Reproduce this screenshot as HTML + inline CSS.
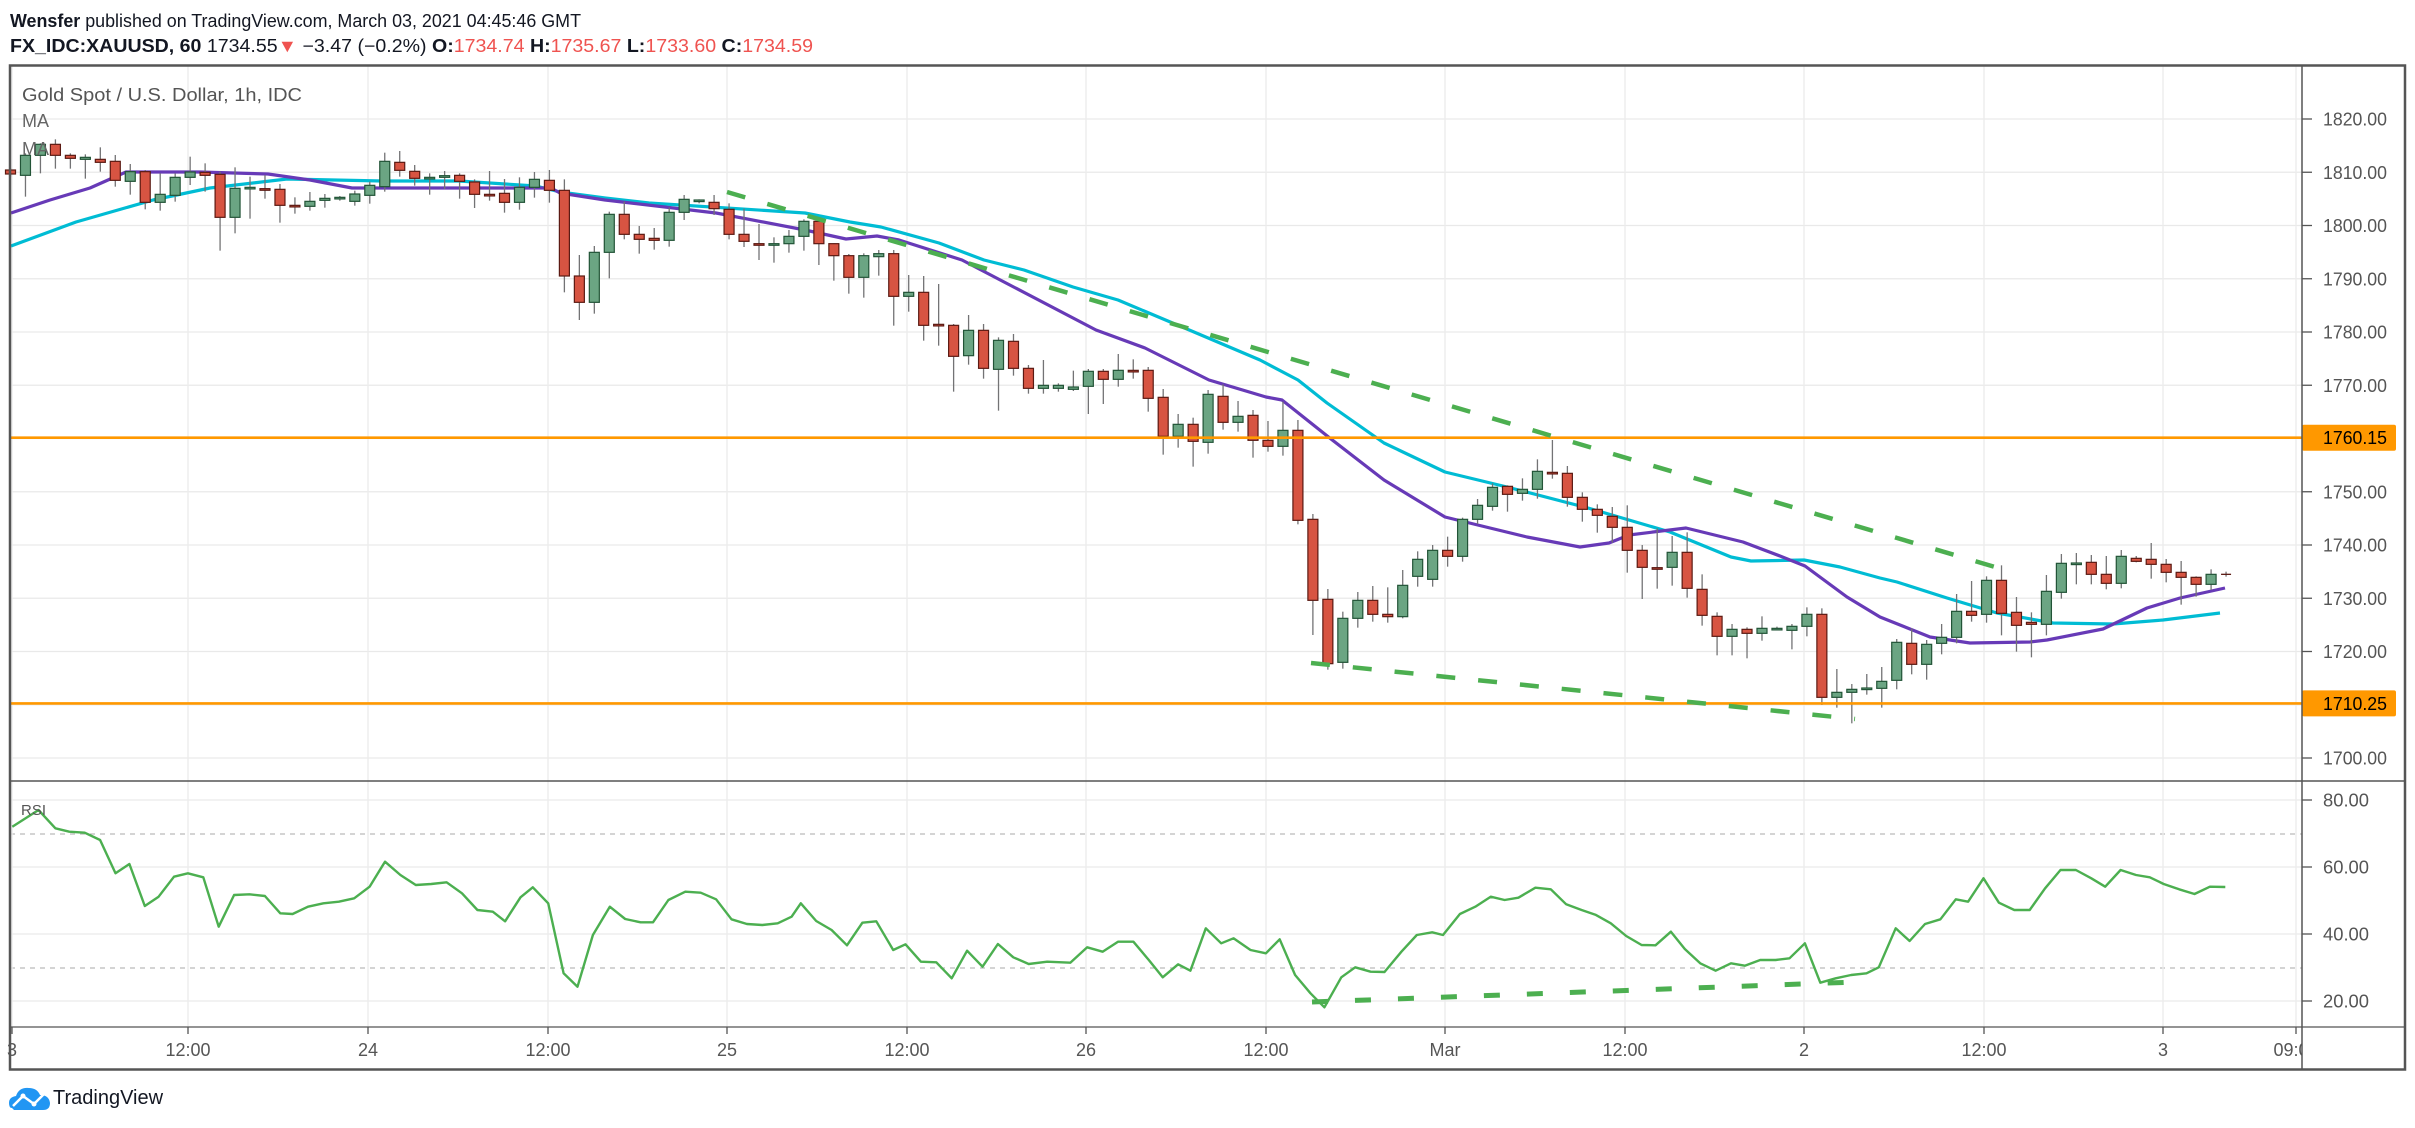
<!DOCTYPE html>
<html><head><meta charset="utf-8"><style>
html,body{margin:0;padding:0;background:#fff;width:2415px;height:1128px;overflow:hidden}
svg{display:block;font-family:"Liberation Sans",sans-serif}
</style></head><body>
<svg id="s" width="2415" height="1128" viewBox="0 0 2415 1128" xmlns="http://www.w3.org/2000/svg">
<rect width="2415" height="1128" fill="#fff"/>
<g id="grid"></g>
<g id="main"></g>
<text x="10" y="27" font-size="18" fill="#131722" textLength="571" lengthAdjust="spacingAndGlyphs"><tspan font-weight="bold">Wensfer</tspan> published on TradingView.com, March 03, 2021 04:45:46 GMT</text>
<text x="10" y="52" font-size="18" fill="#131722" textLength="803" lengthAdjust="spacingAndGlyphs"><tspan font-weight="bold">FX_IDC:XAUUSD, 60</tspan> 1734.55<tspan fill="#ef5350">▼</tspan> −3.47 (−0.2%) <tspan font-weight="bold">O:</tspan><tspan fill="#ef5350">1734.74</tspan> <tspan font-weight="bold">H:</tspan><tspan fill="#ef5350">1735.67</tspan> <tspan font-weight="bold">L:</tspan><tspan fill="#ef5350">1733.60</tspan> <tspan font-weight="bold">C:</tspan><tspan fill="#ef5350">1734.59</tspan></text>
<text x="22" y="101" font-size="18" fill="#555" textLength="280" lengthAdjust="spacingAndGlyphs">Gold Spot / U.S. Dollar, 1h, IDC</text>
<text x="22" y="127" font-size="18" fill="#666">MA</text>
<text x="22" y="155" font-size="18" fill="#666">MA</text>
<text x="21" y="815" font-size="15" fill="#555">RSI</text>
<g transform="translate(9,1086)">
<path d="M3 22 Q0 22 0 17 Q0 11 7 10 Q10 1 20 2 Q28 2 31 9 Q40 9 41 17 Q41 24 34 24 L5 24 Z" fill="#2196f3"/>
<polyline points="4,20 14,10 25,18 35,8" fill="none" stroke="#fff" stroke-width="2.5"/>
<circle cx="14" cy="10" r="2.5" fill="#fff"/><circle cx="25" cy="18" r="2.5" fill="#fff"/>
</g>
<text x="53" y="1104" font-size="20" fill="#131722">TradingView</text>
</svg>
<script>
(function(){
var NS='http://www.w3.org/2000/svg';
var g=document.getElementById('grid'), m=document.getElementById('main');
var h='', mh='';
function py(p){return 119+(1820-p)*5.325;}
var L=10,R=2302;
// horizontal price grid
for(var p=1700;p<=1820;p+=10){var y=py(p);h+='<line x1="'+L+'" x2="'+R+'" y1="'+y+'" y2="'+y+'" stroke="#e9e9e9" stroke-width="1.3"/>';
 h+='<line x1="'+R+'" x2="'+(R+10)+'" y1="'+y+'" y2="'+y+'" stroke="#555" stroke-width="1.3"/>';
 h+='<text x="2323" y="'+(y+6.5)+'" font-size="18" fill="#555" textLength="64" lengthAdjust="spacingAndGlyphs">'+p+'.00</text>';}
// rsi grid
var rs=[[80,800],[60,867],[40,934],[20,1001]];
rs.forEach(function(r){h+='<line x1="'+L+'" x2="'+R+'" y1="'+r[1]+'" y2="'+r[1]+'" stroke="#e9e9e9" stroke-width="1.3"/>';
 h+='<line x1="'+R+'" x2="'+(R+10)+'" y1="'+r[1]+'" y2="'+r[1]+'" stroke="#555" stroke-width="1.3"/>';
 h+='<text x="2323" y="'+(r[1]+6.5)+'" font-size="18" fill="#555" textLength="46" lengthAdjust="spacingAndGlyphs">'+r[0]+'.00</text>';});
h+='<line x1="'+L+'" x2="'+R+'" y1="834" y2="834" stroke="#bbb" stroke-width="1.3" stroke-dasharray="5,5"/>';
h+='<line x1="'+L+'" x2="'+R+'" y1="968" y2="968" stroke="#bbb" stroke-width="1.3" stroke-dasharray="5,5"/>';
// vertical grid & time labels
var tx=[[12,'3'],[188,'12:00'],[368,'24'],[548,'12:00'],[727,'25'],[907,'12:00'],[1086,'26'],[1266,'12:00'],[1445,'Mar'],[1625,'12:00'],[1804,'2'],[1984,'12:00'],[2163,'3'],[2296,'09:00']];
tx.forEach(function(t){
 h+='<line x1="'+t[0]+'" x2="'+t[0]+'" y1="66" y2="1027" stroke="#ececec" stroke-width="1.3"/>';
 h+='<line x1="'+t[0]+'" x2="'+t[0]+'" y1="1027" y2="1034" stroke="#555" stroke-width="1.3"/>';
});
h+='<svg x="0" y="1030" width="2302" height="40" overflow="hidden">';
tx.forEach(function(t){h+='<text x="'+t[0]+'" y="26" font-size="18" fill="#555" text-anchor="middle">'+t[1]+'</text>';});
h+='</svg>';
g.innerHTML=h;

// candles
var Z=[[120,[[150,162,145,170],[166,106,100,230],[106,73,70,160],[73,106,58,146],[106,115,100,146],[118,112,103,176],[118,127,82,155],[124,181,105,200],[184,155,132,224],[155,247,150,268],[247,223,160,272],[226,172,160,245],[172,156,110,195],[157,166,130,215],[163,292,155,392],[292,205,142,340],[202,202,170,296],[206,208,165,236],[208,256,192,308],[256,258,232,281],[259,244,216,272],[241,235,222,263],[234,232,228,242],[244,222,212,257],[226,196,185,251],[200,124,98,215],[127,151,93,170],[154,175,135,197],[174,172,160,224],[172,167,153,207],[166,184,160,236],[186,223,178,264],[223,225,153,242],[220,247,177,278],[247,202,172,269],[202,178,156,233],[181,211,150,248],[211,468,178,517],[468,547,405,600],[547,397,378,581]]],
[150,[[307,193,185,385],[193,253,155,268],[253,268,228,311],[265,271,234,299],[271,187,172,290],[187,148,135,210],[154,150,148,160],[157,176,135,195],[178,253,160,268],[253,274,176,291],[281,283,222,330],[283,281,262,338],[281,259,240,308],[259,214,208,302],[214,281,208,345],[281,317,280,392],[317,382,312,431],[382,317,310,443],[320,311,300,377],[311,439,300,527],[439,427,375,485],[427,526,378,572],[523,525,402,587],[526,619,522,725],[617,541,495,644],[541,655,522,686],[658,571,562,782],[574,655,552,677],[655,715,645,731],[715,706,630,731],[715,706,700,725],[718,711,662,723],[709,664,657,792],[664,688,657,762],[688,661,612,710],[661,663,628,686],[661,745,651,785],[742,859,717,914],[859,823,792,893],[823,874,803,950],[877,733,720,911],[739,817,703,839],[817,799,753,845],[796,871,780,923]]],
[380,[[181,199,123,215],[199,151,65,227],[151,421,120,433],[418,661,402,765],[658,851,627,869],[847,715,695,866],[715,661,636,743],[661,703,618,725],[703,710,622,728],[710,616,570,715],[589,538,514,620],[598,511,495,620],[511,529,470,560],[529,418,413,545],[418,376,357,432],[379,322,310,392],[319,343,316,395],[340,328,295,362],[328,274,238,356],[277,279,180,296],[280,352,258,380],[352,388,337,425],[388,406,373,458],[409,442,381,488],[442,511,376,578],[511,562,495,657],[563,565,445,626],[562,517,468,617],[517,625,457,653],[628,706,583,737],[709,769,697,826],[769,748,732,826],[748,760,742,835],[760,745,709,782],[747,745,740,750],[751,739,732,808],[739,703,682,769],[703,952,685,975]]],
[480,[[652,637,567,683],[637,628,612,730],[626,624,582,644],[625,604,561,683],[601,487,477,628],[490,553,445,583],[553,493,480,599],[490,472,432,523],[472,394,342,490],[394,406,303,425],[403,301,289,428],[301,400,256,466],[397,436,351,515],[427,433,397,532],[433,334,285,466],[337,250,222,356],[251,249,219,313],[247,283,225,313],[283,310,228,328],[310,229,210,325],[235,244,228,247],[238,253,189,296],[253,277,237,307],[277,292,243,374],[292,313,289,350],[313,283,268,330],[283,285,275,290]]]];
var i=0, c='';
var ch='';
Z.forEach(function(z){var off=z[0];z[1].forEach(function(d){
 var x=10.5+i*14.97; var o=off+d[0]/3, cl=off+d[1]/3, hi=off+d[2]/3, lo=off+d[3]/3;
 var up=cl<=o && d[0]!==d[1] ? true : (d[0]===d[1] ? (i%2==0) : false);
 if(d[0]>d[1]) up=true; else if(d[0]<d[1]) up=false;
 var top=Math.min(o,cl), bh=Math.max(Math.abs(o-cl),1.6);
 c+='<line x1="'+x+'" x2="'+x+'" y1="'+hi+'" y2="'+lo+'" stroke="#737375" stroke-width="1.3"/>';
 if(i===148){c+='<line x1="'+(x-5)+'" x2="'+(x+5)+'" y1="'+top+'" y2="'+top+'" stroke="#5b1a13" stroke-width="1.3"/>';}
 else c+='<rect x="'+(x-5)+'" y="'+top+'" width="10" height="'+bh+'" fill="'+(up?'#6ba583':'#d75442')+'" stroke="'+(up?'#225437':'#5b1a13')+'" stroke-width="1.2"/>';
 i++;});});
// MAs
var pur=[[11,213],[50,200],[90,188],[126,172],[200,172],[268,174],[310,180],[352,188],[450,188],[551,188],[560,193],[605,200],[716,213],[805,230],[846,239],[877,236],[899,240],[962,260],[1006,283],[1096,330],[1145,348],[1209,380],[1266,397],[1282,400],[1331,439],[1384,480],[1445,517],[1490,528],[1527,537],[1580,547],[1609,543],[1629,535],[1686,528],[1743,542],[1780,556],[1805,566],[1847,597],[1880,617],[1930,637],[1970,643],[2030,642],[2047,640],[2103,629],[2147,608],[2180,598],[2225,588]];
var cy=[[11,246],[76,222],[153,200],[210,188],[287,179],[383,181],[459,181],[536,186],[560,192],[605,198],[649,203],[805,213],[850,222],[881,227],[939,243],[984,260],[1024,270],[1073,287],[1118,300],[1194,332],[1260,360],[1298,380],[1327,403],[1384,443],[1445,472],[1507,487],[1588,508],[1629,520],[1670,532],[1731,557],[1751,561],[1804,560],[1840,567],[1880,578],[1897,582],[1947,598],[1997,613],[2053,623],[2113,624],[2163,620],[2220,613]];
function pl(a){return a.map(function(p){return p[0]+','+p[1];}).join(' ');}
mh+='<polyline points="'+pl(cy)+'" fill="none" stroke="#00bcd4" stroke-width="3.2" stroke-linejoin="round"/>';
mh+='<polyline points="'+pl(pur)+'" fill="none" stroke="#673ab7" stroke-width="3.2" stroke-linejoin="round"/>';
mh+=c;
// orange lines
[[437.7,'1760.15'],[703.4,'1710.25']].forEach(function(o){
 mh+='<line x1="'+L+'" x2="'+R+'" y1="'+o[0]+'" y2="'+o[0]+'" stroke="#ff9800" stroke-width="2.6"/>';
 mh+='<rect x="'+R+'" y="'+(o[0]-13)+'" width="94" height="26" rx="2" fill="#ff9800"/>';
 mh+='<text x="2323" y="'+(o[0]+6.5)+'" font-size="18" fill="#000" textLength="64" lengthAdjust="spacingAndGlyphs">'+o[1]+'</text>';});
// trendlines
mh+='<line x1="727" y1="192" x2="2012" y2="572" stroke="#4caf50" stroke-width="4.5" stroke-dasharray="19,23"/>';
mh+='<line x1="1311" y1="663" x2="1855" y2="719" stroke="#4caf50" stroke-width="4.5" stroke-dasharray="19,23"/>';
// RSI
var r=[[8,200],[25,150],[36,205],[45,215],[55,218],[65,240],[75,340],[84,312],[94,438],[103,410],[113,350],[122,340],[132,352],[142,500],[152,405],[162,403],[172,408],[182,460],[190,462],[200,440],[210,430],[220,425],[230,415],[240,380],[250,305],[260,345],[270,375],[280,372],[290,367],[300,400],[310,450],[320,455],[328,484],[338,412],[346,382],[356,430],[366,640],[375,680],[385,525],[396,440],[406,477],[416,487],[424,487],[434,420],[445,395],[455,398],[465,418],[475,478],[485,492],[495,495],[505,490],[514,470],[520,430],[530,483],[540,510],[550,556],[560,488],[569,484],[580,570],[588,553],[598,605],[608,607],[618,655],[628,572],[638,620],[648,552],[658,592],[668,612],[680,605],[695,608],[706,562],[716,575],[726,545],[736,545],[746,600],[755,652],[765,613],[773,632],[783,505],[793,550],[801,535],[812,570],[822,580],[831,538],[841,645],[851,700],[860,742],[871,652],[880,622],[890,635],[899,636],[910,575],[920,525],[930,517],[937,525],[948,462],[958,440],[968,410],[977,420],[986,413],[997,383],[1007,388],[1017,433],[1027,450],[1036,464],[1046,490],[1056,528],[1066,555],[1075,556],[1085,515],[1094,567],[1104,610],[1114,632],[1124,610],[1133,617],[1143,600],[1153,600],[1162,595],[1172,550],[1182,668],[1192,655],[1202,645],[1212,640],[1220,622],[1231,505],[1240,543],[1250,492],[1260,478],[1270,418],[1278,425],[1288,355],[1298,428],[1308,450],[1318,450],[1328,385],[1338,330],[1348,330],[1358,355],[1367,380],[1377,330],[1387,345],[1396,352],[1405,372],[1415,388],[1425,402],[1435,380],[1445,381]];
var rp=r.map(function(p){return [(p[0]*1.54).toFixed(1),(760+p[1]/3).toFixed(1)];});
mh+='<polyline points="'+pl(rp)+'" fill="none" stroke="#4caf50" stroke-width="2.4" stroke-linejoin="round"/>';
mh+='<line x1="1312" y1="1002" x2="1856" y2="982" stroke="#4caf50" stroke-width="5" stroke-dasharray="16,27"/>';
// frame
mh+='<line x1="10" x2="2405" y1="781" y2="781" stroke="#555" stroke-width="1.5"/>';
mh+='<line x1="10" x2="2405" y1="1027" y2="1027" stroke="#555" stroke-width="1.3"/>';
mh+='<line x1="'+R+'" x2="'+R+'" y1="66" y2="1070" stroke="#555" stroke-width="1.5"/>';
mh+='<rect x="10" y="65.5" width="2395" height="1004" fill="none" stroke="#555" stroke-width="2.5"/>';
m.innerHTML=mh;
})();
</script>
</body></html>
